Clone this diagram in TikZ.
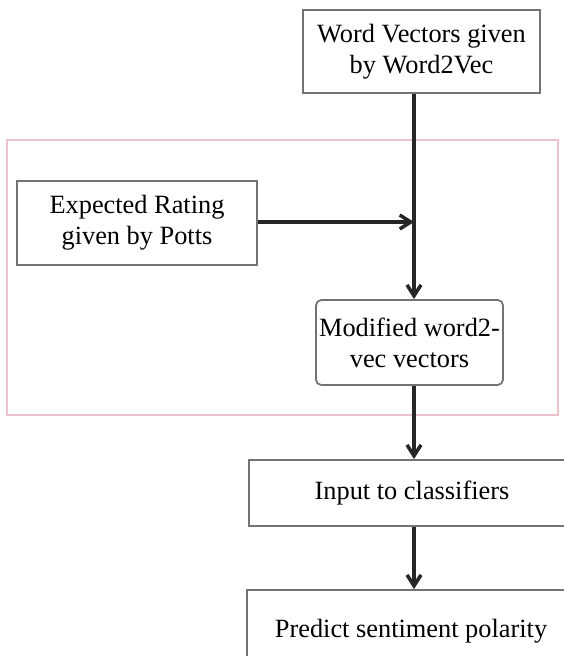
\documentclass[tikz,border=0pt]{standalone}
\usepackage{fontspec}
\setmainfont{Liberation Serif}
\usepackage{xcolor}
\usetikzlibrary{arrows.meta, calc}
\definecolor{framepink}{RGB}{236,196,204}

\begin{document}
\begin{tikzpicture}[x=0.02cm, y=-0.02cm, >={Straight Barb[length=2.2mm, width=2.8mm]},
  every node/.style={font=\fontsize{15}{17.6}\selectfont},
  stepbox/.style={draw=black!55, line width=1pt, align=center, inner sep=1pt},
  flow/.style={->, line width=2pt, draw=black!85}]
  \path[use as bounding box, clip] (0,0) rectangle (564,656);
  \draw[framepink, line width=1.6pt] (7,140) rectangle (558,415);
  \node[stepbox, minimum width=4.74cm, minimum height=1.66cm] (w2v) at (421.5,51.5) {Word Vectors given\\by Word2Vec};
  \node[stepbox, minimum width=4.8cm, minimum height=1.68cm] (potts) at (137,223) {Expected Rating\\given by Potts};
  \node[stepbox, rounded corners=3pt, minimum width=3.74cm, minimum height=1.7cm] (modified) at (409.5,342.5) {Modified word2-\\vec vectors};
  \node[stepbox, minimum width=6.52cm, minimum height=1.32cm] (input) at (412,493) {Input to classifiers};
  \node[stepbox, minimum width=6.56cm, minimum height=1.64cm] (predict) at (411,631) {Predict sentiment polarity};
  \coordinate (junction) at (414,222);
  \draw[flow] (w2v.south -| junction) -- (modified.north -| junction);
  \draw[flow] (potts.east |- junction) -- (junction);
  \draw[flow] (modified.south -| junction) -- (input.north -| junction);
  \draw[flow] (input.south -| junction) -- (predict.north -| junction);
\end{tikzpicture}
\end{document}
